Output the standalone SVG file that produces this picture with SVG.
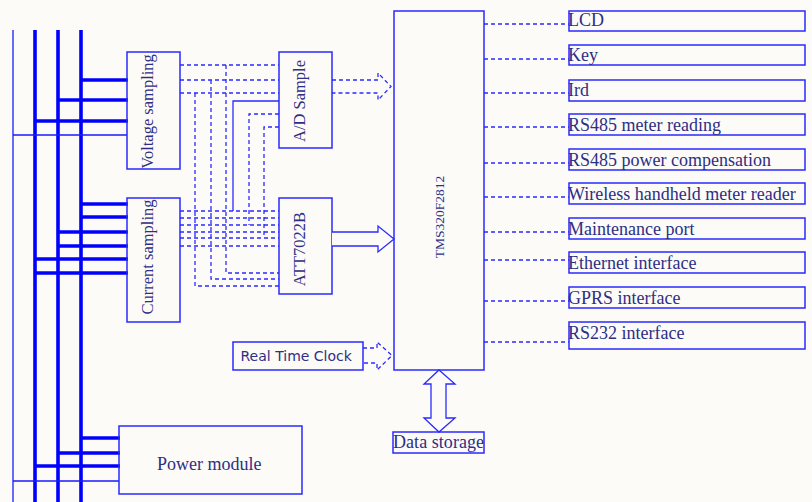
<svg xmlns="http://www.w3.org/2000/svg" width="812" height="502" viewBox="0 0 812 502">
<style>
.bg{fill:#fcfbf7}
.box{fill:none;stroke:#2a2aff;stroke-width:1.5}
.bus{stroke:#0000ff;stroke-width:3.6;fill:none}
.thin{stroke:#1a1aff;stroke-width:1.3;fill:none}
.dash{stroke:#2a2aff;stroke-width:1.3;fill:none;stroke-dasharray:4 3}
.solid{stroke:#2a2aff;stroke-width:1.3;fill:none}
.arrow{stroke:#2a2aff;stroke-width:1.3;fill:#fcfbf7}
.t{font-family:"Liberation Serif","Times New Roman",serif;fill:#2e2e85;font-size:18px}
.tv{font-family:"Liberation Serif","Times New Roman",serif;fill:#2e2e85;font-size:16.5px;text-anchor:middle}
.ts{font-family:"DejaVu Sans",Verdana,sans-serif;fill:#2e2e85;font-size:14px}
</style>
<rect class="bg" x="0" y="0" width="812" height="502"/>

<g id="bus">
<line class="thin" x1="13" y1="30" x2="13" y2="502"/>
<line class="bus" x1="35" y1="30" x2="35" y2="502"/>
<line class="bus" x1="58" y1="30" x2="58" y2="502"/>
<line class="bus" x1="81" y1="30" x2="81" y2="502"/>
</g>

<g id="bus-taps">
<line class="bus" x1="81" y1="80" x2="128" y2="80"/>
<line class="bus" x1="58" y1="100" x2="128" y2="100"/>
<line class="bus" x1="35" y1="121" x2="128" y2="121"/>
<line class="thin" x1="13" y1="135" x2="127" y2="135"/>
<line class="bus" x1="81" y1="204" x2="128" y2="204"/>
<line class="bus" x1="81" y1="217" x2="128" y2="217"/>
<line class="bus" x1="58" y1="232" x2="128" y2="232"/>
<line class="bus" x1="58" y1="246" x2="128" y2="246"/>
<line class="bus" x1="35" y1="259" x2="128" y2="259"/>
<line class="bus" x1="35" y1="273" x2="128" y2="273"/>
<line class="bus" x1="81" y1="438" x2="120" y2="438"/>
<line class="bus" x1="58" y1="453" x2="120" y2="453"/>
<line class="bus" x1="35" y1="466" x2="120" y2="466"/>
<line class="thin" x1="13" y1="481" x2="119" y2="481"/>
</g>

<g id="voltage-sampling">
<rect class="box" x="127" y="52" width="53" height="117"/>
<text class="tv" transform="translate(152.5,111.5) rotate(-90)">Voltage sampling</text>
</g>

<g id="current-sampling">
<rect class="box" x="127" y="198" width="53" height="124"/>
<text class="tv" transform="translate(152.5,257) rotate(-90)">Current sampling</text>
</g>

<g id="ad-sample">
<rect class="box" x="279" y="52" width="53" height="96"/>
<text class="tv" transform="translate(304.5,101) rotate(-90)">A/D Sample</text>
</g>

<g id="att7022b">
<rect class="box" x="279" y="198" width="53" height="96"/>
<text class="tv" transform="translate(305,249) rotate(-90)">ATT7022B</text>
</g>

<g id="tms320f2812">
<rect class="box" x="394" y="11" width="90" height="359"/>
<text class="tv" style="font-size:13.5px" transform="translate(443.5,217) rotate(-90)">TMS320F2812</text>
</g>

<g id="rtc">
<rect class="box" x="233" y="342" width="130" height="28"/>
<text class="ts" x="240.5" y="360.5">Real Time Clock</text>
</g>

<g id="power-module">
<rect class="box" x="119" y="426" width="183" height="68"/>
<text class="t" x="157" y="470">Power module</text>
</g>

<g id="data-storage">
<rect class="box" x="393" y="432" width="91" height="21"/>
<text class="t" x="393" y="448" textLength="91">Data storage</text>
</g>

<g id="lcd"><rect class="box" x="569" y="11" width="236" height="20"/><text class="t" x="568" y="26">LCD</text></g>
<g id="key"><rect class="box" x="569" y="45" width="236" height="20"/><text class="t" x="568" y="61">Key</text></g>
<g id="ird"><rect class="box" x="569" y="80" width="236" height="21"/><text class="t" x="568" y="96">Ird</text></g>
<g id="rs485-meter"><rect class="box" x="569" y="114" width="236" height="21"/><text class="t" x="568" y="131">RS485 meter reading</text></g>
<g id="rs485-power"><rect class="box" x="569" y="149" width="236" height="21"/><text class="t" x="568" y="165.5">RS485 power compensation</text></g>
<g id="wireless"><rect class="box" x="569" y="183" width="236" height="21"/><text class="t" x="568" y="200">Wireless handheld meter reader</text></g>
<g id="maintenance"><rect class="box" x="569" y="218" width="236" height="21"/><text class="t" x="568" y="235">Maintenance port</text></g>
<g id="ethernet"><rect class="box" x="569" y="252" width="236" height="21"/><text class="t" x="568" y="269">Ethernet interface</text></g>
<g id="gprs"><rect class="box" x="569" y="287" width="236" height="21"/><text class="t" x="568" y="304">GPRS interface</text></g>
<g id="rs232"><rect class="box" x="569" y="322" width="236" height="27"/><text class="t" x="568" y="338.5">RS232 interface</text></g>

<g id="connectors">
<path class="dash" d="M180 65H279M226 65V273H279"/>
<path class="dash" d="M180 80H279M211 80V279H279"/>
<path class="dash" d="M180 93H279M195 93V286H279"/>
<path class="solid" d="M279 101H233V211"/>
<path class="dash" d="M279 114H249V225"/>
<path class="dash" d="M279 127H264V238"/>
<path class="dash" d="M180 211H279M180 218H279M180 225H279M180 232H279M180 238H279M180 246H279"/>
<path class="dash" d="M332 80H378V73L391 86.5L378 100V93H332"/>
<path class="dash" d="M363 348H377V342L392 355.5L377 370V363H363"/>
<path class="arrow" d="M332 232H378V226L394 239L378 252V246H332"/>
<path class="arrow" d="M439 370L455 384H446V418H455L439 432L424 418H431V384H424Z"/>
<path class="dash" d="M484 24H569M484 59H569M484 93H569M484 127H569M484 163H569M484 197H569M484 232H569M484 260H569M484 301H569M484 342H569"/>
</g>
</svg>
